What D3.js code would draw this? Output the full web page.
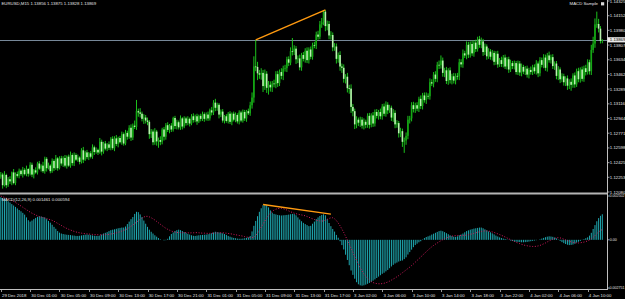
<!DOCTYPE html>
<html>
<head>
<meta charset="utf-8">
<script src="https://cdn.jsdelivr.net/npm/d3@7/dist/d3.min.js"></script>
<style>
html, body { margin: 0; padding: 0; background: #000; overflow: hidden; }
svg { display: block; }
text { font-family: "Liberation Sans", Arial, sans-serif; fill: #e4e4e4; }
</style>
</head>
<body>
<div id="chart"></div>
<script>
// EURUSD M15 closes, one per bar (open of each bar = previous close)
const firstOpen = 1.12260;
const closes = [
1.12285,1.12160,1.12280,1.12160,1.12230,1.12205,1.12310,1.12185,1.12290,1.12270,
1.12330,1.12290,1.12340,1.12290,1.12350,1.12295,1.12400,1.12285,1.12335,1.12310,
1.12415,1.12355,1.12390,1.12325,1.12470,1.12360,1.12390,1.12325,1.12445,1.12360,
1.12475,1.12360,1.12475,1.12415,1.12480,1.12390,1.12495,1.12390,1.12515,1.12420,
1.12515,1.12460,1.12485,1.12435,1.12570,1.12460,1.12545,1.12490,1.12535,1.12495,
1.12605,1.12550,1.12575,1.12545,1.12670,1.12555,1.12650,1.12590,1.12640,1.12600,
1.12705,1.12595,1.12710,1.12645,1.12715,1.12665,1.12760,1.12650,1.12775,1.12730,
1.12835,1.12720,1.12860,1.12845,1.13030,1.13015,1.13000,1.12940,1.12955,1.12920,
1.12905,1.12760,1.12790,1.12665,1.12790,1.12675,1.12690,1.12670,1.12815,1.12730,
1.12865,1.12810,1.12860,1.12815,1.12950,1.12855,1.12900,1.12840,1.12945,1.12850,
1.12945,1.12890,1.12940,1.12885,1.12970,1.12925,1.12970,1.12910,1.12975,1.12940,
1.12995,1.12940,1.12990,1.12945,1.13040,1.13015,1.13130,1.13070,1.13105,1.12990,
1.13025,1.12920,1.12970,1.12915,1.13000,1.12905,1.13000,1.12930,1.12985,1.12910,
1.13015,1.12920,1.13020,1.12945,1.13030,1.13005,1.13100,1.13190,1.13555,1.13550,
1.13475,1.13460,1.13480,1.13325,1.13470,1.13305,1.13340,1.13310,1.13355,1.13350,
1.13465,1.13360,1.13490,1.13445,1.13530,1.13535,1.13640,1.13600,1.13735,1.13730,
1.13765,1.13640,1.13650,1.13545,1.13690,1.13645,1.13740,1.13630,1.13755,1.13670,
1.13805,1.13800,1.13930,1.13905,1.14050,1.14075,1.14200,1.14030,1.14055,1.13920,
1.13925,1.13780,1.13790,1.13645,1.13690,1.13555,1.13540,1.13410,1.13435,1.13300,
1.13295,1.13080,1.13030,1.12875,1.12930,1.12895,1.12930,1.12860,1.12905,1.12870,
1.12975,1.12870,1.12980,1.12885,1.13020,1.12975,1.13020,1.12970,1.13085,1.13000,
1.13105,1.13040,1.13070,1.12955,1.13010,1.12875,1.12890,1.12770,1.12795,1.12670,
1.12685,1.12740,1.12930,1.12945,1.13100,1.13055,1.13100,1.13060,1.13175,1.13090,
1.13215,1.13160,1.13210,1.13205,1.13370,1.13355,1.13460,1.13410,1.13575,1.13570,
1.13625,1.13480,1.13510,1.13385,1.13510,1.13395,1.13440,1.13390,1.13445,1.13440,
1.13605,1.13580,1.13710,1.13685,1.13810,1.13695,1.13820,1.13710,1.13835,1.13760,
1.13875,1.13810,1.13850,1.13725,1.13790,1.13675,1.13730,1.13670,1.13715,1.13610,
1.13705,1.13580,1.13630,1.13585,1.13660,1.13555,1.13640,1.13520,1.13595,1.13560,
1.13595,1.13490,1.13590,1.13485,1.13550,1.13495,1.13530,1.13460,1.13515,1.13490,
1.13545,1.13500,1.13590,1.13475,1.13630,1.13575,1.13660,1.13540,1.13685,1.13630,
1.13665,1.13560,1.13590,1.13445,1.13520,1.13405,1.13440,1.13370,1.13415,1.13330,
1.13375,1.13340,1.13450,1.13345,1.13500,1.13405,1.13520,1.13410,1.13535,1.13490,
1.13605,1.13500,1.13750,1.13825,1.14050,1.14055,1.14000,1.13856,1.13869
];
// wick lengths above / below the body, in points (0.00001)
const upperWickPts = [
30,20,45,15,25,35,10,40,20,30, 25,15,35,20,40,10,30,25,15,35, 20,30,15,45,25,20,35,15,30,20,
40,15,25,30,20,35,15,25,40,20, 30,20,35,15,25,40,20,30,15,25, 35,20,30,15,45,25,20,30,15,35,
20,30,25,40,15,25,30,20,35,25, 30,40,25,60,132,30,50,25,40,30, 35,20,30,25,40,20,30,45,20,30,
25,35,20,30,15,25,30,20,35,15, 25,20,30,15,25,35,20,30,15,25, 30,20,25,35,20,40,30,45,25,20,
25,30,15,25,20,30,15,25,30,20, 25,20,30,25,15,30,40,60,120,312, 60,40,55,35,50,30,45,40,30,45,
35,40,30,45,35,40,30,35,45,155, 40,30,35,45,25,35,30,40,25,35, 30,40,35,45,40,50,15,20,40,35,
45,30,40,35,30,45,35,40,30,45, 40,50,35,30,40,25,35,30,40,25, 30,35,25,40,30,35,25,40,30,35,
40,30,35,25,45,30,35,25,40,30, 35,40,45,30,35,40,30,35,25,40, 30,35,40,30,45,35,30,40,35,50,
60,35,30,40,25,35,30,40,30,35, 40,35,45,30,40,35,30,40,25,35, 30,40,45,30,35,25,40,30,35,25,
30,35,25,40,30,35,25,30,40,25, 30,25,35,30,40,25,30,35,25,40, 30,35,40,25,35,30,40,35,30,45,
30,35,25,30,40,25,35,30,25,35, 30,40,25,35,30,40,25,35,30,40, 35,30,60,80,70,145,60,30,6
];
const lowerWickPts = [
25,40,15,35,20,30,45,15,25,20, 30,20,40,15,25,35,20,30,45,15, 25,15,35,20,30,40,15,25,20,35,
20,30,15,25,40,20,35,15,25,30, 35,15,25,30,20,40,15,25,35,20, 25,35,20,30,15,45,25,20,30,25,
30,20,35,25,40,15,30,25,20,35, 25,40,30,25,35,50,45,30,60,35, 40,55,45,35,30,50,75,40,30,45,
35,25,40,30,25,35,40,25,30,35, 20,30,25,35,20,30,25,40,20,30, 25,35,20,30,25,35,30,40,35,45,
30,25,35,20,30,25,40,20,30,25, 35,20,25,30,40,20,30,40,60,50, 80,50,60,70,45,60,80,50,55,40,
50,45,35,40,50,35,45,40,30,45, 40,55,45,35,40,30,45,35,40,30, 35,30,40,35,30,40,35,60,50,45,
50,45,40,55,45,50,60,45,55,50, 60,70,60,55,45,40,50,35,45,40, 35,45,30,40,35,30,45,35,40,30,
35,45,30,40,50,45,40,50,45,60, 130,50,40,45,35,40,45,30,40,35, 40,30,45,35,40,30,45,35,40,45,
40,45,50,35,45,40,50,35,45,40, 45,35,40,30,45,40,35,30,40,35, 30,35,40,45,35,40,30,35,45,40,
35,40,30,35,40,30,35,40,30,35, 40,30,35,40,45,30,40,35,45,30, 35,30,40,45,35,30,40,35,45,30,
40,35,45,40,50,45,35,40,45,50, 40,70,35,40,30,35,40,30,35,40, 30,40,45,35,50,40,45,30,28
];

// MACD(12,26,9) main (histogram) and signal, in units of 0.00001
const macdMain = [
243,238,233,226,220,213,204,196,188,179, 170,163,154,144,128,112,104,110,118,125,
131,134,133,130,127,118,108,98,86,74, 63,50,41,36,33,31,29,28,27,25,
24,22,22,23,25,27,29,30,29,27, 25,23,22,22,24,30,36,40,44,50,
55,58,60,63,66,68,70,70,76,90, 104,118,130,148,160,158,145,130,110,92,
74,58,46,36,26,18,10,3,0,-3, -2,6,20,33,42,50,55,58,55,50,
44,40,34,30,26,23,22,24,26,27, 28,29,30,32,34,38,42,46,44,42,
40,37,33,28,22,18,14,11,9,7, 6,6,7,9,11,14,22,48,80,108,
135,160,180,198,204,200,185,168,155,148, 145,142,140,139,140,141,142,144,146,148,
147,140,128,116,106,97,90,84,78,80, 92,104,118,128,136,142,146,140,118,96,
78,62,47,28,12,-8,-30,-55,-85,-115, -145,-175,-200,-222,-242,-254,-260,-262,-260,-256,
-251,-246,-240,-233,-226,-218,-210,-202,-194,-188, -180,-172,-162,-152,-143,-135,-130,-124,-120,-118,
-110,-100,-84,-70,-56,-42,-30,-22,-14,-8, 2,10,16,20,24,30,35,40,45,50,
52,49,44,38,32,26,21,18,17,20, 26,30,36,43,50,54,58,61,64,66,
68,70,70,66,60,54,48,43,37,31, 24,19,14,10,7,5,2,-1,-4,-7,
-9,-11,-12,-13,-14,-14,-13,-12,-10,-8, -6,-4,-2,0,3,7,11,15,18,20,
19,17,13,8,2,-6,-13,-19,-24,-28, -30,-29,-27,-22,-16,-11,-6,-1,4,9,
14,24,40,62,84,106,124,137,146
];
const macdSignal = [
250,246,242,238,234,229,224,219,213,207, 200,193,186,179,172,165,158,152,147,142,
137,133,130,127,124,121,118,115,111,106, 100,94,88,82,76,70,65,60,56,52,
48,45,42,40,38,36,35,34,33,32, 31,30,29,29,28,28,29,29,30,31,
33,35,37,40,43,46,50,54,58,63, 70,77,85,93,101,109,117,124,130,134,
134,131,126,120,113,105,97,89,81,73, 66,60,55,50,47,44,42,41,41,41,
40,41,40,39,40,40,41,41,40,39, 38,38,37,37,37,38,38,39,39,40,
40,40,39,38,36,35,33,31,29,27, 25,23,21,18,16,14,13,12,15,24,
38,55,72,90,108,125,140,152,162,170, 175,178,180,180,178,174,170,165,160,156,
152,149,146,144,142,140,137,133,129,124, 120,116,112,110,108,107,108,112,117,122,
126,126,120,110,96,80,62,42,20,-2, -25,-48,-72,-95,-118,-140,-160,-178,-194,-208,
-220,-230,-238,-244,-248,-250,-251,-251,-250,-248, -245,-241,-236,-230,-224,-218,-211,-204,-196,-188,
-180,-172,-164,-156,-147,-138,-128,-118,-108,-98, -88,-78,-68,-58,-49,-40,-32,-25,-18,-11,
-5,1,6,11,15,18,21,23,24,25, 25,25,25,26,27,29,31,34,37,40,
43,46,48,50,51,51,50,48,45,42, 38,34,30,26,21,16,11,6,1,-4,
-9,-14,-18,-22,-26,-29,-32,-34,-36,-37, -38,-38,-37,-35,-32,-28,-23,-18,-12,-6,
-1,4,8,11,12,11,8,4,0,-4, -8,-12,-15,-17,-18,-18,-17,-15,-13,-10,
-6,-1,6,14,24,35,45,53,59
];

// axis labels
const priceTicks = [1.14325,1.14152,1.13980,1.13807,1.13634,1.13462,1.13289,1.13116,1.12944,1.12771,1.12598,1.12425,1.12253,1.12080];
const macdTicks = [0.002502, 0, -0.002751];
const macdTickLabels = ["0.002502", "0.00", "-0.002751"];
const timeLabels = ["29 Dec 2018","30 Dec 01:00","30 Dec 05:00","30 Dec 09:00","30 Dec 13:00","30 Dec 17:00",
  "30 Dec 21:00","31 Dec 01:00","31 Dec 05:00","31 Dec 09:00","31 Dec 13:00","31 Dec 17:00","3 Jan 02:00",
  "3 Jan 06:00","3 Jan 10:00","3 Jan 14:00","3 Jan 18:00","3 Jan 22:00","4 Jan 02:00","4 Jan 06:00","4 Jan 10:00"];
const barsPerLabel = 16;

// trend lines: [bar index, value]
const priceTrend = [[139, 1.13867], [177, 1.14220]];
const macdTrend = [[143, 0.00202], [180, 0.00147]];

const width = 625, height = 299;
const axisX = 607;       // price axis line
const mainBottom = 192;
const macdTop = 196, macdBottom = 288;
const timeAxisY = 289;

const svg = d3.select("#chart").append("svg")
    .attr("width", width)
    .attr("height", height)
    .style("background", "#000");

// candles
const candles = closes.map((c, i) => {
    const o = i === 0 ? firstOpen : closes[i - 1];
    return {
        i: i, open: o, close: c,
        high: Math.max(o, c) + upperWickPts[i] * 1e-5,
        low: Math.min(o, c) - lowerWickPts[i] * 1e-5
    };
});

const x = d3.scaleLinear().domain([0, closes.length - 1]).range([0.8, 602.3]);
const y = d3.scaleLinear().domain([1.12080, 1.14325]).range([mainBottom, 1]);
const ym = d3.scaleLinear().domain([-0.002751, 0.002502]).range([macdBottom, macdTop]);

const defs = svg.append("defs");
defs.append("clipPath").attr("id", "clipMain")
    .append("rect").attr("x", 0).attr("y", 0).attr("width", axisX).attr("height", mainBottom);
defs.append("clipPath").attr("id", "clipMacd")
    .append("rect").attr("x", 0).attr("y", 195).attr("width", axisX).attr("height", timeAxisY - 195);

const gMain = svg.append("g").attr("clip-path", "url(#clipMain)");

// bid line
const bidY = Math.round(y(closes[closes.length - 1])) + 0.5;
gMain.append("line")
    .attr("x1", 0).attr("x2", axisX)
    .attr("y1", bidY).attr("y2", bidY)
    .attr("stroke", "#778899").attr("stroke-width", 1);

gMain.selectAll(".wick")
    .data(candles)
    .join("line")
    .attr("class", "wick")
    .attr("x1", d => x(d.i)).attr("x2", d => x(d.i))
    .attr("y1", d => y(d.high)).attr("y2", d => y(d.low))
    .attr("stroke", "#1fd61f").attr("stroke-width", 0.9);

gMain.selectAll(".body")
    .data(candles)
    .join("rect")
    .attr("class", "body")
    .attr("x", d => x(d.i) - 0.8)
    .attr("width", 1.6)
    .attr("y", d => y(Math.max(d.open, d.close)))
    .attr("height", d => Math.max(0.7, Math.abs(y(d.open) - y(d.close))))
    .attr("fill", d => d.close >= d.open ? "#14a814" : "#b8f4ae");

// orange trend line on price
gMain.append("line")
    .attr("x1", x(priceTrend[0][0])).attr("y1", y(priceTrend[0][1]))
    .attr("x2", x(priceTrend[1][0])).attr("y2", y(priceTrend[1][1]))
    .attr("stroke", "#ff9a10").attr("stroke-width", 1.4);

// MACD window
const gMacd = svg.append("g").attr("clip-path", "url(#clipMacd)");

gMacd.selectAll(".hist")
    .data(macdMain)
    .join("rect")
    .attr("class", "hist")
    .attr("x", (d, i) => x(i) - 0.5)
    .attr("width", 1)
    .attr("y", d => ym(Math.max(d * 1e-5, 0)))
    .attr("height", d => Math.abs(ym(d * 1e-5) - ym(0)))
    .attr("fill", "#1fa8b0");

const signalLine = d3.line()
    .x((d, i) => x(i))
    .y(d => ym(d * 1e-5));

gMacd.append("path")
    .datum(macdSignal)
    .attr("d", signalLine)
    .attr("fill", "none")
    .attr("stroke", "#d8195e")
    .attr("stroke-width", 1)
    .attr("stroke-dasharray", "1,1.7");

gMacd.append("line")
    .attr("x1", x(macdTrend[0][0])).attr("y1", ym(macdTrend[0][1]))
    .attr("x2", x(macdTrend[1][0])).attr("y2", ym(macdTrend[1][1]))
    .attr("stroke", "#ff9a10").attr("stroke-width", 1.4);

// window separator
svg.append("rect")
    .attr("x", 0).attr("y", 192.5).attr("width", axisX).attr("height", 2)
    .attr("fill", "#b4b4b4");

// axes frame
svg.append("line")
    .attr("x1", axisX + 0.5).attr("x2", axisX + 0.5).attr("y1", 0).attr("y2", timeAxisY)
    .attr("stroke", "#c0c0c0").attr("stroke-width", 1);
svg.append("line")
    .attr("x1", 0).attr("x2", axisX + 1).attr("y1", timeAxisY + 0.5).attr("y2", timeAxisY + 0.5)
    .attr("stroke", "#c0c0c0").attr("stroke-width", 1);

// price labels
const priceAxis = svg.append("g");
priceAxis.selectAll("line")
    .data(priceTicks)
    .join("line")
    .attr("x1", axisX).attr("x2", axisX + 2.5)
    .attr("y1", d => y(d)).attr("y2", d => y(d))
    .attr("stroke", "#c0c0c0").attr("stroke-width", 0.8);
priceAxis.selectAll("text")
    .data(priceTicks)
    .join("text")
    .attr("x", axisX + 2.8)
    .attr("y", d => y(d) + 1.5)
    .style("font-size", "4.3px")
    .text(d => d.toFixed(5));

// current price box
const last = candles[candles.length - 1];
svg.append("rect")
    .attr("x", axisX + 0.5).attr("y", y(last.close) - 2.6)
    .attr("width", width - axisX).attr("height", 5.2)
    .attr("fill", "#e8e8e8");
svg.append("text")
    .attr("x", axisX + 2.8).attr("y", y(last.close) + 1.5)
    .style("font-size", "4.3px").style("fill", "#000")
    .text(last.close.toFixed(5));

// MACD labels
const macdAxis = svg.append("g");
macdAxis.selectAll("line")
    .data(macdTicks)
    .join("line")
    .attr("x1", axisX).attr("x2", axisX + 2.5)
    .attr("y1", d => ym(d)).attr("y2", d => ym(d))
    .attr("stroke", "#c0c0c0").attr("stroke-width", 0.8);
macdAxis.selectAll("text")
    .data(macdTicks)
    .join("text")
    .attr("x", (d, i) => i === 1 ? axisX + 2.8 : 624.6)
    .attr("text-anchor", (d, i) => i === 1 ? "start" : "end")
    .attr("y", d => Math.min(ym(d) + 1.4, 288.6))
    .style("font-size", "3.6px")
    .text((d, i) => macdTickLabels[i]);

// time labels
const timeAxis = svg.append("g");
timeAxis.selectAll("line")
    .data(timeLabels)
    .join("line")
    .attr("x1", (d, k) => Math.round(x(k * barsPerLabel)) + 0.5)
    .attr("x2", (d, k) => Math.round(x(k * barsPerLabel)) + 0.5)
    .attr("y1", timeAxisY).attr("y2", timeAxisY + 3)
    .attr("stroke", "#c0c0c0").attr("stroke-width", 0.8);
timeAxis.selectAll("text")
    .data(timeLabels)
    .join("text")
    .attr("x", (d, k) => x(k * barsPerLabel) + 1.2)
    .attr("y", 296.8)
    .style("font-size", "4.3px")
    .text(d => d);

// headers
svg.append("text")
    .attr("x", 1.5).attr("y", 5.2)
    .style("font-size", "4.3px")
    .text(`EURUSD,M15  ${last.open.toFixed(5)} ${last.high.toFixed(5)} ${last.low.toFixed(5)} ${last.close.toFixed(5)}`);

svg.append("text")
    .attr("x", 1.5).attr("y", 200.8)
    .style("font-size", "4.3px")
    .text("MACD(12,26,9) 0.001461 0.000594");

svg.append("text")
    .attr("x", 598).attr("y", 5.2)
    .attr("text-anchor", "end")
    .style("font-size", "4.3px")
    .text("MACD Sample");
svg.append("rect")
    .attr("x", 601).attr("y", 2.2).attr("width", 3.2).attr("height", 3.2)
    .attr("fill", "#d8d8d8");
</script>
</body>
</html>
